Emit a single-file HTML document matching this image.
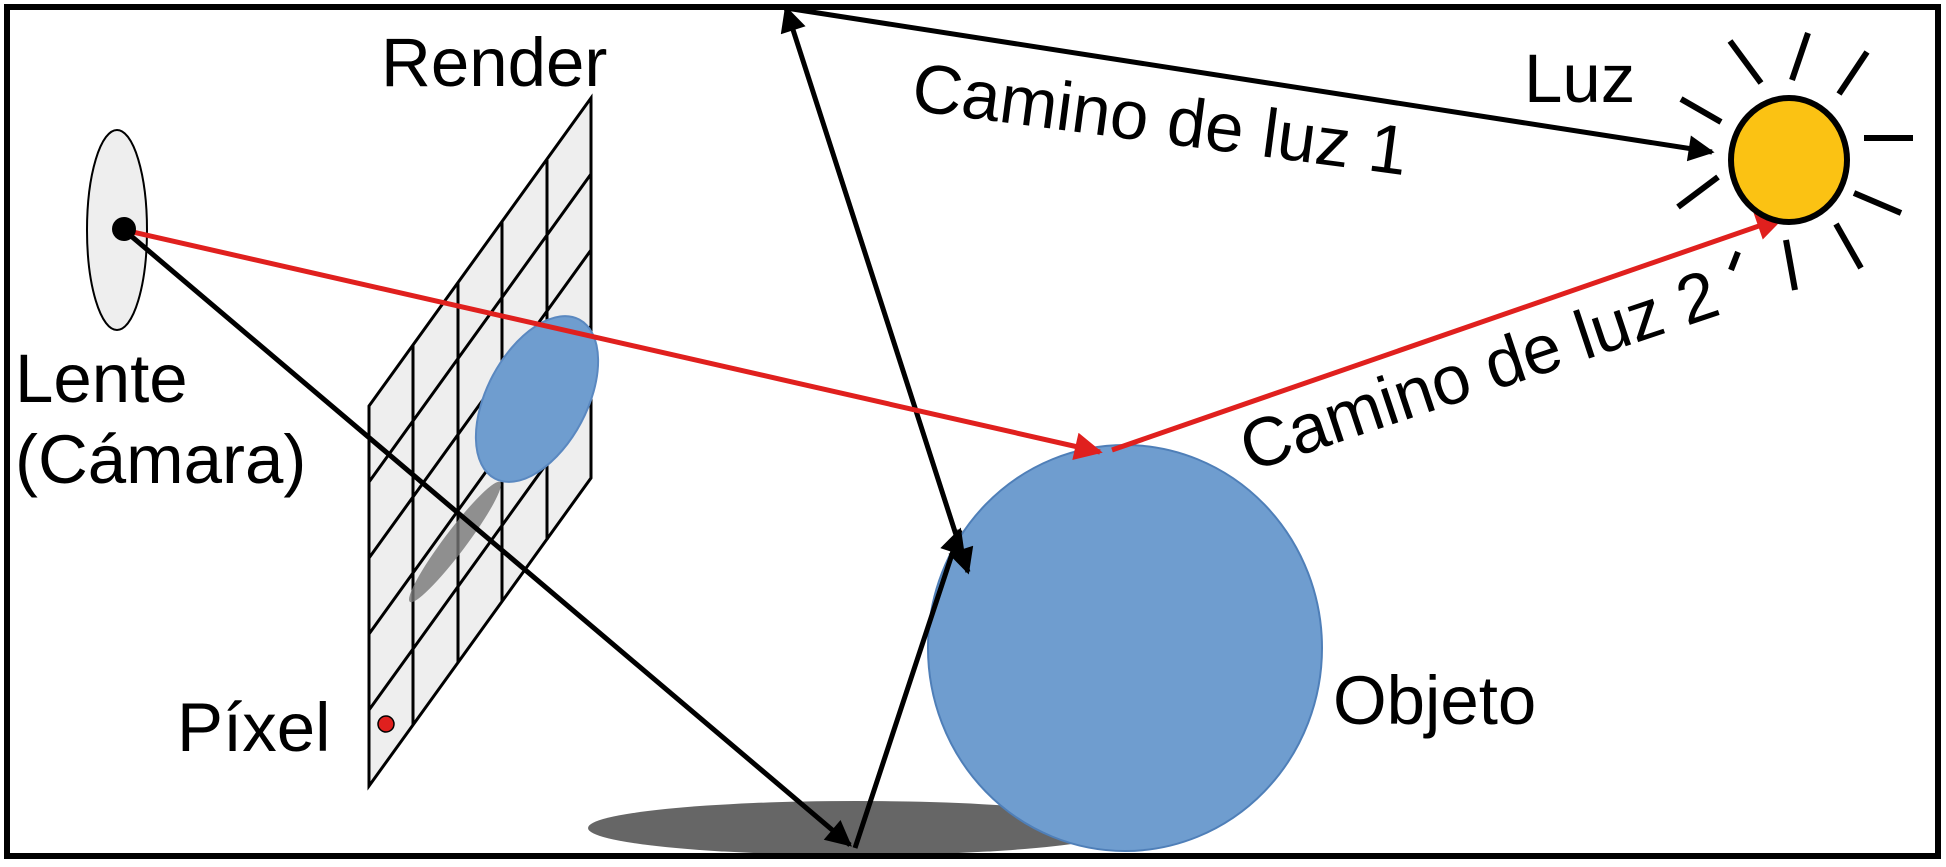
<!DOCTYPE html>
<html><head><style>
html,body{margin:0;padding:0;background:#fff;}
svg{display:block;}
text{font-family:"Liberation Sans",sans-serif;font-size:69px;fill:#000;}
</style></head><body>
<svg width="1946" height="867" viewBox="0 0 1946 867" xmlns="http://www.w3.org/2000/svg">
<defs>
<marker id="ab" viewBox="0 0 10 10" refX="9" refY="5" markerWidth="34" markerHeight="26" markerUnits="userSpaceOnUse" orient="auto-start-reverse"><path d="M0,0 L10,5 L0,10 z" fill="#000"/></marker>
<marker id="ar" viewBox="0 0 10 10" refX="9" refY="5" markerWidth="34" markerHeight="28" markerUnits="userSpaceOnUse" orient="auto"><path d="M0,0 L10,5 L0,10 z" fill="#e0201e"/></marker>
</defs>
<rect x="0" y="0" width="1946" height="867" fill="#fff"/>
<ellipse cx="856" cy="828" rx="268" ry="27" fill="#666"/>
<ellipse cx="1125" cy="648" rx="197" ry="203" fill="#6f9dcf" stroke="#4f7fb8" stroke-width="2"/>
<ellipse cx="117" cy="230" rx="30" ry="100" fill="#eee" stroke="#000" stroke-width="2"/>
<g stroke="#000" stroke-width="3" fill="#eee">
<path d="M369,406 L591,98 L591,478 L369,786 Z"/>
<path d="M413,345 L413,725 M458,283 L458,663 M502,222 L502,602 M547,160 L547,540" fill="none"/>
<path d="M369,482 L591,174 M369,558 L591,250 M369,634 L591,326 M369,710 L591,402" fill="none"/>
</g>
<ellipse cx="537" cy="399" rx="50" ry="90" transform="rotate(28 537 399)" fill="#6f9dcf" stroke="#5a88c0" stroke-width="2"/>
<ellipse cx="455" cy="542" rx="11" ry="75" transform="rotate(37 455 542)" fill="#777" opacity="0.8"/>
<circle cx="386" cy="724" r="8" fill="#e0201e" stroke="#000" stroke-width="1.5"/>
<g stroke="#000" stroke-width="5" fill="none">
<line x1="124" y1="230" x2="850" y2="845" marker-end="url(#ab)"/>
<line x1="855" y1="848" x2="960" y2="530" marker-end="url(#ab)"/>
<line x1="968" y1="572" x2="786" y2="8" marker-end="url(#ab)" marker-start="url(#ab)"/>
<line x1="786" y1="8" x2="1712" y2="152" marker-end="url(#ab)"/>
</g>
<g stroke="#e0201e" stroke-width="5" fill="none">
<line x1="124" y1="230" x2="1100" y2="452" marker-end="url(#ar)"/>
<line x1="1112" y1="450" x2="1782" y2="218" marker-end="url(#ar)"/>
</g>
<circle cx="124" cy="229" r="12" fill="#000"/>
<g stroke="#000" stroke-width="6">
<line x1="1730" y1="41" x2="1761" y2="83"/>
<line x1="1808" y1="33" x2="1792" y2="80"/>
<line x1="1867" y1="52" x2="1839" y2="94"/>
<line x1="1681" y1="99" x2="1721" y2="122"/>
<line x1="1864" y1="138" x2="1913" y2="138"/>
<line x1="1678" y1="207" x2="1718" y2="177"/>
<line x1="1854" y1="193" x2="1901" y2="213"/>
<line x1="1836" y1="224" x2="1861" y2="268"/>
<line x1="1786" y1="240" x2="1795" y2="290"/>
<line x1="1731" y1="270" x2="1738" y2="252"/>
</g>
<ellipse cx="1789" cy="160" rx="58" ry="62" fill="#fbc213" stroke="#000" stroke-width="6"/>
<rect x="7" y="7" width="1931" height="849" fill="none" stroke="#000" stroke-width="6"/>
<text x="381" y="86">Render</text>
<text x="15" y="402">Lente</text>
<text x="15" y="483">(Cámara)</text>
<text x="177" y="751">Píxel</text>
<text x="1333" y="724">Objeto</text>
<text x="1524" y="102">Luz</text>
<text x="910" y="110" transform="rotate(7.5 910 110)">Camino de luz 1</text>
<text x="1250" y="472" transform="rotate(-18.5 1250 472)">Camino de luz 2</text>
</svg>
</body></html>
